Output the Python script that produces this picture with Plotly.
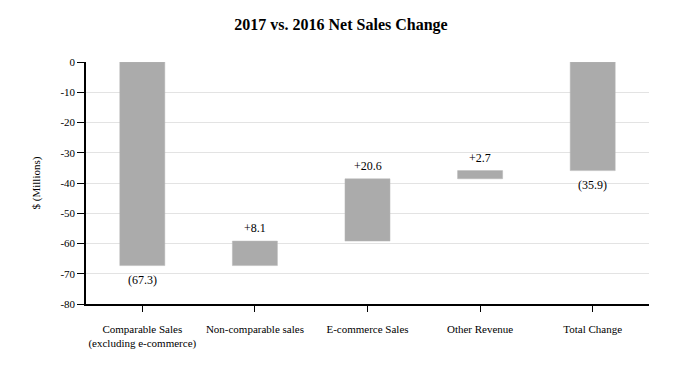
import plotly.graph_objects as go

categories = ["Comparable Sales<br>(excluding e-commerce)", "Non-comparable sales",
              "E-commerce Sales", "Other Revenue", "Total Change"]
changes = [-67.3, 8.1, 20.6, 2.7]
total = -35.9
labels = ["(67.3)", "+8.1", "+20.6", "+2.7", "(35.9)"]
y_tick_vals = [0, -10, -20, -30, -40, -50, -60, -70, -80]
y_tick_text = ["0", "-10", "-20", "-30", "-40", "-50", "-60", "-70", "-80"]

bases = []
heights = []
run = 0.0
for c in changes:
    bases.append(run)
    heights.append(c)
    run += c
bases.append(0)
heights.append(total)

font_family = "'Liberation Serif', 'Times New Roman', Times, serif"

fig = go.Figure(go.Bar(
    x=categories, y=heights, base=bases,
    marker=dict(color="#ababab", line=dict(color="#b8b8b8", width=0.5)),
    width=0.4, cliponaxis=False, hoverinfo="skip",
))

for cat, b, h, lab in zip(categories, bases, heights, labels):
    fig.add_annotation(x=cat, y=b + h, text=lab, showarrow=False,
                       yanchor="middle", yshift=(-14 if h < 0 else 13),
                       font=dict(family=font_family, size=12, color="#000000"))

fig.update_layout(
    width=682, height=370,
    margin=dict(l=86, r=33, t=62, b=66),
    paper_bgcolor="white", plot_bgcolor="white",
    showlegend=False,
    font=dict(family=font_family, size=11, color="#000000"),
    title=dict(text="<b>2017 vs. 2016 Net Sales Change</b>", x=0.5, xref="container",
               y=1 - 24 / 370, yref="container", yanchor="middle",
               font=dict(family=font_family, size=16, color="#000000")),
    bargap=0.6,
)

fig.update_yaxes(range=[-80, 0], tickvals=y_tick_vals, ticktext=y_tick_text,
                 showgrid=True, gridcolor="#e3e3e3",
                 zeroline=False, showline=True, linecolor="#000000", linewidth=1.5,
                 ticks="outside", ticklen=7, tickcolor="#000000",
                 title=dict(text="$ (Millions)", font=dict(family=font_family, size=11), standoff=18),
                 tickfont=dict(family=font_family, size=11))
fig.update_xaxes(showline=True, linecolor="#000000", linewidth=1.5,
                 ticks="outside", ticklen=6, tickcolor="#000000",
                 ticklabelstandoff=8, tickfont=dict(family=font_family, size=11))

fig.write_html("out.html", config={"displayModeBar": False},
               post_script="document.body.style.margin='0';")
